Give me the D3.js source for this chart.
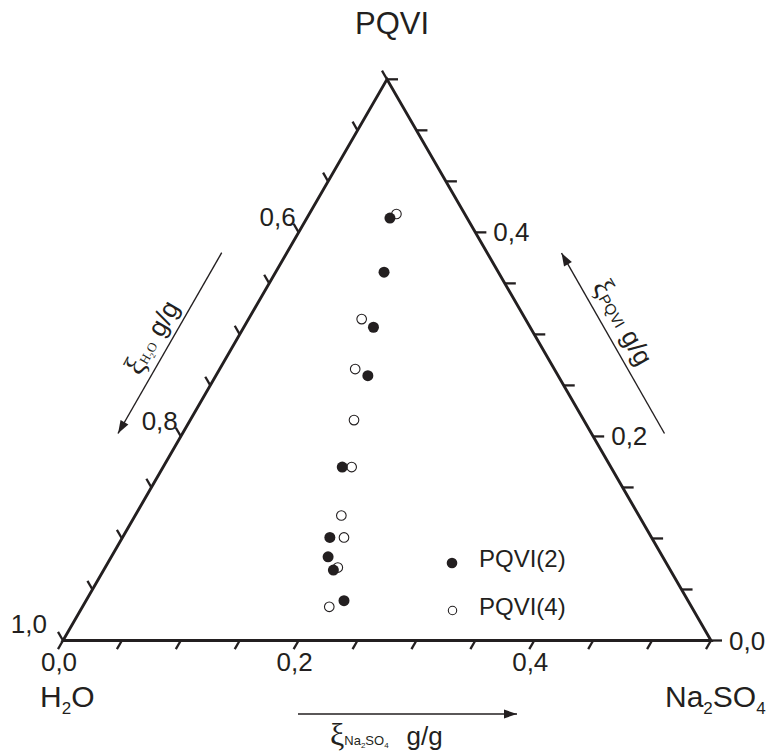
<!DOCTYPE html>
<html><head><meta charset="utf-8">
<script src="https://cdn.jsdelivr.net/npm/d3@7/dist/d3.min.js"></script>
<style>body{margin:0;background:#fff}</style>
</head><body>
<svg id="chart" width="769" height="755"></svg>
<script>
// ---- data (mass fractions, g/g) ----
const seriesNames = ["PQVI(2)", "PQVI(4)"];
const pqvi2Na2SO4 = [0.0705, 0.092, 0.110, 0.129, 0.152, 0.176, 0.184, 0.195, 0.219];
const pqvi2PQVI   = [0.414, 0.361, 0.307, 0.2595, 0.170, 0.101, 0.082, 0.069, 0.039];
const pqvi4Na2SO4 = [0.074, 0.096, 0.115, 0.139, 0.160, 0.175, 0.188, 0.1975, 0.2095];
const pqvi4PQVI   = [0.418, 0.315, 0.266, 0.216, 0.170, 0.1225, 0.101, 0.0715, 0.033];
const tickValues  = [0, 0.05, 0.10, 0.15, 0.20, 0.25, 0.30, 0.35, 0.40, 0.45, 0.50, 0.55];
const naTickLabels   = [{v: 0.0, t: "0,0"}, {v: 0.2, t: "0,2"}, {v: 0.4, t: "0,4"}];
const pqviTickLabels = [{v: 0.0, t: "0,0"}, {v: 0.2, t: "0,2"}, {v: 0.4, t: "0,4"}];
const h2oTickLabels  = [{v: 1.0, t: "1,0"}, {v: 0.8, t: "0,8"}, {v: 0.6, t: "0,6"}];

// ---- layout ----
const INK = "#231f20";
const X0 = 63, Y0 = 640.5, SIDE = 648, RANGE = 0.55;
const SQ = Math.sqrt(3) / 2;
const s = d3.scaleLinear().domain([0, RANGE]).range([0, SIDE]);
function proj(na, p) { return [X0 + s(na) + s(p) / 2, Y0 - s(p) * SQ]; }

const svg = d3.select("#chart");
const g = svg.append("g");

// triangle
const tri = [proj(0, 0), proj(RANGE, 0), proj(0, RANGE)];
g.append("path").attr("d", d3.line()(tri) + "Z")
  .attr("fill", "none").attr("stroke", INK).attr("stroke-width", 2.9).attr("stroke-linejoin", "miter");

const TL = 10;
// bottom ticks (Na2SO4)
g.selectAll(".tb").data(tickValues).join("line")
  .each(function(v) { const [x, y] = proj(v, 0);
    d3.select(this).attr("x1", x).attr("y1", y).attr("x2", x - 0.5 * TL).attr("y2", y + SQ * TL); })
  .attr("stroke", INK).attr("stroke-width", 2.3);
// right ticks (PQVI)
g.selectAll(".tr").data(tickValues).join("line")
  .each(function(v) { const [x, y] = proj(RANGE - v, v);
    d3.select(this).attr("x1", x).attr("y1", y).attr("x2", x + 11).attr("y2", y); })
  .attr("stroke", INK).attr("stroke-width", 2.3);
// left ticks (H2O)
g.selectAll(".tl").data(tickValues).join("line")
  .each(function(v) { const [x, y] = proj(0, v);
    d3.select(this).attr("x1", x).attr("y1", y).attr("x2", x - 0.5 * TL).attr("y2", y - SQ * TL); })
  .attr("stroke", INK).attr("stroke-width", 2.3);

const font = "'Liberation Sans', Arial, sans-serif";
const serif = "'Liberation Serif', 'Times New Roman', serif";
// tick labels
g.selectAll(".lb").data(naTickLabels).join("text")
  .attr("x", d => proj(d.v, 0)[0] - 4).attr("y", Y0 + 30)
  .attr("text-anchor", "middle").attr("font-family", font).attr("font-size", 26).attr("fill", INK)
  .text(d => d.t);
g.selectAll(".lr").data(pqviTickLabels).join("text")
  .attr("x", d => proj(RANGE - d.v, d.v)[0] + 18).attr("y", d => proj(RANGE - d.v, d.v)[1] + 9)
  .attr("font-family", font).attr("font-size", 26).attr("fill", INK)
  .text(d => d.t);
g.selectAll(".ll").data(h2oTickLabels).join("text")
  .attr("x", d => proj(0, 1 - d.v)[0] - 5 + (d.v === 1 ? -11 : 2))
  .attr("y", d => proj(0, 1 - d.v)[1] - 8.66 + (d.v === 1 ? 1 : 2))
  .attr("text-anchor", "end").attr("font-family", font).attr("font-size", 26).attr("fill", INK)
  .text(d => d.t);

// vertex labels
g.append("text").attr("x", 392).attr("y", 34).attr("text-anchor", "middle")
  .attr("font-family", font).attr("font-size", 31).attr("fill", INK).text("PQVI");
const h2o = g.append("text").attr("x", 40).attr("y", 707)
  .attr("font-family", font).attr("font-size", 30).attr("fill", INK);
h2o.append("tspan").text("H");
h2o.append("tspan").attr("font-size", 17).attr("dy", 7).text("2");
h2o.append("tspan").attr("dy", -7).text("O");
const na = g.append("text").attr("x", 665).attr("y", 707)
  .attr("font-family", font).attr("font-size", 30).attr("fill", INK);
na.append("tspan").text("Na");
na.append("tspan").attr("font-size", 17).attr("dy", 7).text("2");
na.append("tspan").attr("dy", -7).text("SO");
na.append("tspan").attr("font-size", 17).attr("dy", 7).text("4");

// arrows
function arrow(x1, y1, x2, y2) {
  g.append("line").attr("x1", x1).attr("y1", y1).attr("x2", x2).attr("y2", y2)
    .attr("stroke", INK).attr("stroke-width", 1.4);
  const a = Math.atan2(y2 - y1, x2 - x1), L = 13, W = 4.5;
  const bx = x2 - L * Math.cos(a), by = y2 - L * Math.sin(a);
  const pts = [[x2, y2], [bx - W * Math.sin(a), by + W * Math.cos(a)], [bx + W * Math.sin(a), by - W * Math.cos(a)]];
  g.append("path").attr("d", d3.line()(pts) + "Z").attr("fill", INK);
}
arrow(298, 714, 517, 714);
arrow(221.7, 252.7, 118, 433.5);
arrow(664.5, 433.5, 561.5, 253);

// axis titles
const tb = g.append("text").attr("x", 330).attr("y", 745)
  .attr("font-family", font).attr("font-size", 26).attr("fill", INK);
tb.append("tspan").attr("font-family", serif).attr("font-size", 32).text("ξ");
tb.append("tspan").attr("font-size", 13).attr("dy", 0).text("Na");
tb.append("tspan").attr("font-size", 8).attr("dy", 3).text("2");
tb.append("tspan").attr("font-size", 13).attr("dy", -3).text("SO");
tb.append("tspan").attr("font-size", 8).attr("dy", 3).text("4");
tb.append("tspan").attr("dy", -3).attr("dx", 18).text("g/g");

const tlft = g.append("text").attr("transform", "translate(160,342) rotate(-60)")
  .attr("text-anchor", "middle").attr("font-family", font).attr("font-size", 26).attr("fill", INK);
tlft.append("tspan").attr("font-family", serif).attr("font-size", 30).text("ξ");
tlft.append("tspan").attr("font-family", serif).attr("font-size", 13).text("H");
tlft.append("tspan").attr("font-family", serif).attr("font-size", 8).attr("dy", 3).text("2");
tlft.append("tspan").attr("font-family", serif).attr("font-size", 13).attr("dy", -3).text("O");
tlft.append("tspan").attr("dx", 8).text("g/g");

const trgt = g.append("text").attr("transform", "translate(615,327) rotate(60)")
  .attr("text-anchor", "middle").attr("font-family", font).attr("font-size", 26).attr("fill", INK);
trgt.append("tspan").attr("font-family", serif).attr("font-size", 30).text("ξ");
trgt.append("tspan").attr("font-size", 15).text("PQVI");
trgt.append("tspan").attr("dx", 8).text("g/g");

// data points
const s4 = pqvi4Na2SO4.map((v, i) => ({na: v, p: pqvi4PQVI[i]}));
const s2 = pqvi2Na2SO4.map((v, i) => ({na: v, p: pqvi2PQVI[i]}));
g.selectAll(".p4").data(s4).join("circle")
  .attr("cx", d => proj(d.na, d.p)[0]).attr("cy", d => proj(d.na, d.p)[1]).attr("r", 4.8)
  .attr("fill", "#fff").attr("stroke", INK).attr("stroke-width", 1.1);
g.selectAll(".p2").data(s2).join("circle")
  .attr("cx", d => proj(d.na, d.p)[0]).attr("cy", d => proj(d.na, d.p)[1]).attr("r", 5.5)
  .attr("fill", INK);

// legend
const lg = g.append("g");
lg.append("circle").attr("cx", 452).attr("cy", 563).attr("r", 5.3).attr("fill", INK);
lg.append("circle").attr("cx", 452.5).attr("cy", 610.5).attr("r", 4.2).attr("fill", "#fff").attr("stroke", INK).attr("stroke-width", 1.1);
lg.append("text").attr("x", 479).attr("y", 567).attr("font-family", font).attr("font-size", 24).attr("fill", INK).text(seriesNames[0]);
lg.append("text").attr("x", 479).attr("y", 615).attr("font-family", font).attr("font-size", 24).attr("fill", INK).text(seriesNames[1]);
</script>
</body></html>
